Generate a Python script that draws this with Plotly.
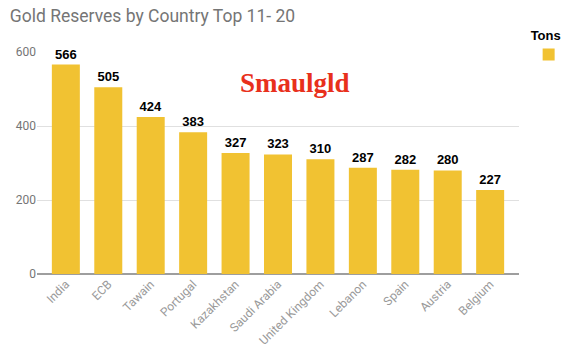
import plotly.graph_objects as go

countries = ["India", "ECB", "Tawain", "Portugal", "Kazakhstan", "Saudi Arabia",
             "United Kingdom", "Lebanon", "Spain", "Austria", "Belgium"]
tons = [566, 505, 424, 383, 327, 323, 310, 287, 282, 280, 227]
y_ticks = [0, 200, 400, 600]

fig = go.Figure()
fig.add_trace(go.Bar(
    x=countries, y=tons, name=" ",
    marker=dict(color="#f1c232", line=dict(width=0)),
    texttemplate="<b>%{y}</b>", textposition="outside",
    textfont=dict(family="Liberation Sans, Arial, sans-serif", size=13, color="#000000"),
    cliponaxis=False, showlegend=True,
))

fig.update_layout(
    width=580, height=354,
    margin=dict(l=37, r=61, t=52, b=80, autoexpand=False),
    paper_bgcolor="white", plot_bgcolor="white",
    bargap=0.34,
    title=dict(text="Gold Reserves by Country Top 11- 20", x=0.017, xanchor="left",
               y=0.955, yanchor="middle",
               font=dict(family="Roboto, Arial, sans-serif", size=17.5, color="#757575")),
    xaxis=dict(range=[-0.68, 10.68], tickangle=-45,
               tickfont=dict(family="Roboto, Arial", size=12, color="#9a9a9a"),
               showgrid=False, showline=False, ticks=""),
    yaxis=dict(range=[0, 600], tickvals=y_ticks, gridcolor="#e0e0e0",
               tickfont=dict(family="Roboto, Arial", size=12, color="#757575"),
               zeroline=True, zerolinecolor="#9e9e9e", zerolinewidth=2,
               ticks="", showline=False),
    legend=dict(x=1.02, y=1.13, xanchor="left", yanchor="top",
                title=dict(text="<b>Tons</b>", side="top",
                           font=dict(family="Liberation Sans, Arial", size=13, color="#000")),
                font=dict(size=10), itemwidth=30),
    annotations=[dict(text="<b>Smaulgld</b>", x=0.535, y=0.86, xref="paper", yref="paper",
                      xanchor="center", yanchor="middle", showarrow=False,
                      font=dict(family="Liberation Serif, serif", size=27, color="#e8301c"))],
)

fig.write_html("out.html")
